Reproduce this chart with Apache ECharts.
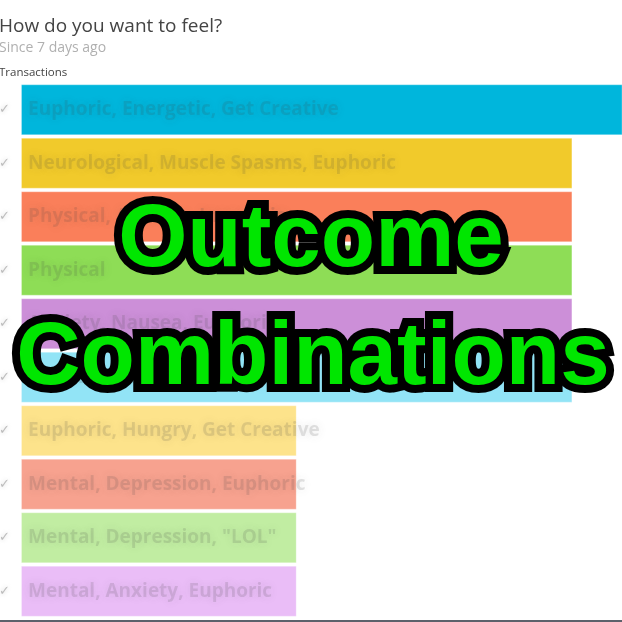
<!DOCTYPE html>
<html>
<head>
<meta charset="utf-8">
<script src="https://cdn.jsdelivr.net/npm/echarts@6/dist/echarts.min.js"></script>
<style>
    html, body { margin: 0; padding: 0; background: #fff; }
    #chart { width: 622px; height: 622px; }
</style>
</head>
<body>
<div id="chart"></div>
<script>
// 组合名称（原图已打码，按轮廓估读）
var combos = [
    'Euphoric, Energetic, Get Creative',
    'Neurological, Muscle Spasms, Euphoric',
    'Physical, Anxiety, Insomnia',
    'Physical',
    'Anxiety, Nausea, Euphoric',
    'Euphoric, Relaxed, Sleepy',
    'Euphoric, Hungry, Get Creative',
    'Mental, Depression, Euphoric',
    'Mental, Depression, "LOL"',
    'Mental, Anxiety, Euphoric'
];
// 交易次数
var transactions = [3, 2, 2, 2, 2, 2, 1, 1, 1, 1];
var barColors = ['#00b6dc', '#f1ca2b', '#fa7f5a', '#8edd56', '#cc8fd8',
    '#92e4f6', '#fde38b', '#f7a28f', '#c1eda2', '#eabdf7'];

var chart = echarts.init(document.getElementById('chart'));

var option = {
    animation: false,
    backgroundColor: '#fff',
    title: [{
        text: 'How do you want to feel?',
        left: -1, top: 17, padding: 0,
        textStyle: {fontFamily: 'Open Sans', fontSize: 19, fontWeight: 'normal', color: '#444'}
    }, {
        text: 'Since 7 days ago',
        left: -1, top: 41, padding: 0,
        textStyle: {fontFamily: 'Open Sans', fontSize: 14, fontWeight: 'normal', color: '#b0b0b0'}
    }, {
        text: 'Transactions',
        left: -1, top: 67, padding: 0,
        textStyle: {fontFamily: 'Open Sans', fontSize: 11.5, fontWeight: 'normal', color: '#444'}
    }],
    grid: {left: 21, right: 0, top: 83, bottom: 4, containLabel: false, outerBoundsMode: 'none'},
    xAxis: {
        type: 'value',
        min: 0,
        max: 2.18,
        show: false
    },
    yAxis: {
        type: 'category',
        inverse: true,
        data: combos,
        axisLine: {show: false},
        axisTick: {show: false},
        axisLabel: {
            margin: 11,
            formatter: function () { return '✓'; },
            color: 'rgba(150,150,150,0.6)',
            fontSize: 13,
            textShadowColor: 'rgba(150,150,150,0.8)',
            textShadowBlur: 4
        }
    },
    series: [{
        type: 'bar',
        clip: true,
        barCategoryGap: '5%',
        data: transactions.map(function (v, i) {
            return {value: v, itemStyle: {color: barColors[i]}};
        }),
        itemStyle: {borderColor: 'rgba(255,255,255,0.25)', borderWidth: 1},
        label: {
            show: true,
            position: 'insideLeft',
            distance: 7,
            formatter: '{b}',
            fontFamily: 'Open Sans',
            fontWeight: 'bold',
            fontSize: 19,
            color: 'rgba(70,70,70,0.15)',
            textShadowColor: 'rgba(70,70,70,0.8)',
            textShadowBlur: 10
        }
    }],
    graphic: [
        // 底部灰线
        {type: 'rect', shape: {x: 0, y: 620, width: 622, height: 2}, style: {fill: '#5c616b'}, z: 100},
        // 大字：黑色描边底层 + 绿色字
        {type: 'text', x: 311, y: 241, z: 101, style: {
            text: 'Outcome', font: 'bold 89px "Liberation Sans"', textAlign: 'center', textVerticalAlign: 'middle',
            fill: '#000', stroke: '#000', lineWidth: 16, lineJoin: 'round',
            shadowColor: 'rgba(0,0,0,0.5)', shadowBlur: 6
        }},
        {type: 'text', x: 311, y: 241, z: 102, style: {
            text: 'Outcome', font: 'bold 89px "Liberation Sans"', textAlign: 'center', textVerticalAlign: 'middle',
            fill: '#00e600'
        }},
        {type: 'text', x: 313, y: 359, z: 101, style: {
            text: 'Combinations', font: 'bold 89px "Liberation Sans"', textAlign: 'center', textVerticalAlign: 'middle',
            fill: '#000', stroke: '#000', lineWidth: 16, lineJoin: 'round',
            shadowColor: 'rgba(0,0,0,0.5)', shadowBlur: 6
        }},
        {type: 'text', x: 313, y: 359, z: 102, style: {
            text: 'Combinations', font: 'bold 89px "Liberation Sans"', textAlign: 'center', textVerticalAlign: 'middle',
            fill: '#00e600'
        }}
    ]
};
chart.setOption(option);
</script>
</body>
</html>
